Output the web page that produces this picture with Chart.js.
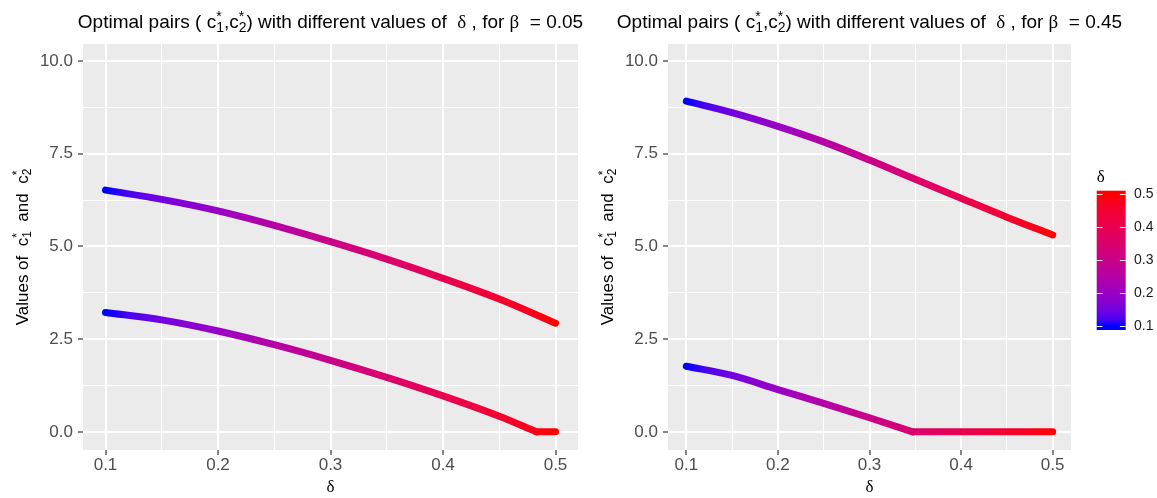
<!DOCTYPE html>
<html>
<head>
<meta charset="utf-8">
<script src="https://cdn.jsdelivr.net/npm/chart.js@4.4.1/dist/chart.umd.min.js"></script>
<style>
  body { margin: 0; background: #fff; }
  #wrap { position: relative; width: 1157px; height: 498px; background: #fff; }
  canvas { position: absolute; top: 0; }
</style>
</head>
<body>
<div id="wrap">
  <canvas id="left" width="620" height="498" style="left:0"></canvas>
  <canvas id="right" width="577" height="498" style="left:580px"></canvas>
</div>
<script>
// --- values ---
const deltaSteps = [0.1, 0.15, 0.2, 0.25, 0.3, 0.35, 0.4, 0.45, 0.5];

// beta = 0.05
const betaLeft = '0.05';
const c1Left = [6.52, 6.27, 5.96, 5.57, 5.13, 4.66, 4.14, 3.58, 2.93];
const c2LeftDelta = [0.1, 0.15, 0.2, 0.25, 0.3, 0.35, 0.4, 0.45, 0.483, 0.5];
const c2Left = [3.22, 3.02, 2.72, 2.35, 1.93, 1.47, 0.97, 0.42, 0, 0];

// beta = 0.45
const betaRight = '0.45';
const c1Right = [8.92, 8.61, 8.24, 7.82, 7.33, 6.81, 6.30, 5.79, 5.31];
const c2RightDelta = [0.1, 0.15, 0.2, 0.25, 0.3, 0.347, 0.4, 0.45, 0.5];
const c2Right = [1.77, 1.52, 1.14, 0.77, 0.38, 0, 0, 0, 0];

// axes and colour bar
const xMajor = [0.1, 0.2, 0.3, 0.4, 0.5];
const xMinor = [0.15, 0.25, 0.35, 0.45];
const yMajor = [0, 2.5, 5, 7.5, 10];
const yMinor = [1.25, 3.75, 6.25, 8.75];
const legendTicks = [0.1, 0.2, 0.3, 0.4, 0.5];
const deltaLow = 0.1, deltaHigh = 0.5;

const SANS = "'Liberation Sans', Arial, sans-serif";
const SERIF = "'Liberation Serif', serif";
Chart.defaults.font.family = SANS;

// --- colour scale blue -> red, interpolated in Lab like ggplot ---
function toLab(hex) {
  const lin = c => { c /= 255; return c <= 0.04045 ? c / 12.92 : Math.pow((c + 0.055) / 1.055, 2.4); };
  const r = lin(parseInt(hex.slice(1, 3), 16)), g = lin(parseInt(hex.slice(3, 5), 16)), b = lin(parseInt(hex.slice(5, 7), 16));
  const X = (0.4124564 * r + 0.3575761 * g + 0.1804375 * b) / 0.95047;
  const Y = 0.2126729 * r + 0.7151522 * g + 0.0721750 * b;
  const Z = (0.0193339 * r + 0.1191920 * g + 0.9503041 * b) / 1.08883;
  const f = t => t > 0.008856 ? Math.cbrt(t) : t / 0.128418 + 4 / 29;
  return [116 * f(Y) - 16, 500 * (f(X) - f(Y)), 200 * (f(Y) - f(Z))];
}
function fromLab([L, a, bb]) {
  const fy = (L + 16) / 116, fx = fy + a / 500, fz = fy - bb / 200;
  const fi = t => t > 6 / 29 ? t * t * t : 0.128418 * (t - 4 / 29);
  const X = fi(fx) * 0.95047, Y = fi(fy), Z = fi(fz) * 1.08883;
  const r = 3.2404542 * X - 1.5371385 * Y - 0.4985314 * Z;
  const g = -0.9692660 * X + 1.8760108 * Y + 0.0415560 * Z;
  const b = 0.0556434 * X - 0.2040259 * Y + 1.0572252 * Z;
  const gam = c => {
    c = Math.min(1, Math.max(0, c));
    c = c <= 0.0031308 ? 12.92 * c : 1.055 * Math.pow(c, 1 / 2.4) - 0.055;
    return Math.round(c * 255);
  };
  return `rgb(${gam(r)},${gam(g)},${gam(b)})`;
}
const labLow = toLab('#0000FF'), labHigh = toLab('#FF0000');
function deltaColour(d) {
  const t = Math.min(1, Math.max(0, (d - deltaLow) / (deltaHigh - deltaLow)));
  return fromLab(labLow.map((v, i) => v + (labHigh[i] - v) * t));
}
function addStops(grad) {
  for (let i = 0; i <= 20; i++) grad.addColorStop(i / 20, deltaColour(deltaLow + (deltaHigh - deltaLow) * i / 20));
  return grad;
}

function deltaGradient(chart) {
  const { ctx, chartArea, scales } = chart;
  if (!chartArea) return '#8000c0';
  const x0 = scales.x.getPixelForValue(deltaLow);
  const x1 = scales.x.getPixelForValue(deltaHigh);
  return addStops(ctx.createLinearGradient(x0, 0, x1, 0));
}

const has = (list, v) => list.some(m => Math.abs(m - v) < 1e-9);

function lineSet(points) {
  return {
    data: points,
    borderColor: c => deltaGradient(c.chart),
    borderWidth: 7,
    borderCapStyle: 'round',
    borderJoinStyle: 'round',
    pointRadius: 0,
    cubicInterpolationMode: 'monotone',
    fill: false
  };
}

// a curve that hits zero: the sloped part and the flat part are drawn separately
// so the corner stays sharp
function curveSets(deltas, values) {
  const pts = deltas.map((d, i) => ({ x: d, y: values[i] }));
  const k = values.indexOf(0);
  if (k < 0) return [lineSet(pts)];
  return [lineSet(pts.slice(0, k + 1)), lineSet(pts.slice(k))];
}

// --- text with c_1^* style scripts ---
function drawMath(ctx, parts, x, y, size, align) {
  const small = Math.round(size * 0.72);
  const widths = parts.map(p => {
    if (p.sub !== undefined) {
      ctx.font = `${small}px ${SANS}`;
      return Math.max(ctx.measureText(p.sub).width, ctx.measureText(p.sup).width);
    }
    ctx.font = `${size}px ${p.greek ? SERIF : SANS}`;
    return ctx.measureText(p.t).width;
  });
  const total = widths.reduce((a, b) => a + b, 0);
  let cx = align === 'center' ? x - total / 2 : x;
  ctx.textAlign = 'left';
  ctx.textBaseline = 'alphabetic';
  parts.forEach((p, i) => {
    if (p.sub !== undefined) {
      ctx.font = `${small}px ${SANS}`;
      ctx.fillText(p.sub, cx, y + size * 0.2);
      ctx.fillText(p.sup, cx, y - size * 0.36);
    } else {
      ctx.font = `${size}px ${p.greek ? SERIF : SANS}`;
      ctx.fillText(p.t, cx, y);
    }
    cx += widths[i];
  });
}

const decor = {
  id: 'decor',
  beforeDraw(chart) {
    const { ctx, chartArea: a } = chart;
    ctx.save();
    ctx.fillStyle = '#EBEBEB';
    ctx.fillRect(a.left, a.top, a.right - a.left, a.bottom - a.top);
    ctx.restore();
  },
  afterDraw(chart, args, opts) {
    const { ctx, chartArea: a } = chart;
    const midX = (a.left + a.right) / 2, midY = (a.top + a.bottom) / 2;
    ctx.save();
    ctx.fillStyle = '#000000';
    drawMath(ctx, [
      { t: 'Optimal pairs ( c' }, { sub: '1', sup: '*' }, { t: ',c' }, { sub: '2', sup: '*' },
      { t: ') with different values of  ' }, { t: 'δ', greek: true }, { t: ' , for ' },
      { t: 'β', greek: true }, { t: '  = ' + opts.beta }
    ], midX, 28, 19, 'center');

    ctx.save();
    ctx.translate(opts.yTitleX, midY);
    ctx.rotate(-Math.PI / 2);
    drawMath(ctx, [
      { t: 'Values of  c' }, { sub: '1', sup: '*' }, { t: '  and  c' }, { sub: '2', sup: '*' }
    ], 0, 0, 17, 'center');
    ctx.restore();

    ctx.font = `17px ${SERIF}`;
    ctx.textAlign = 'center';
    ctx.textBaseline = 'alphabetic';
    ctx.fillText('δ', midX, 492);

    if (opts.legend) {
      const bx = 516.7, bw = 29, top = 190.7, bottom = 330;
      const yOf = v => 325.9 - (v - 0.1) / 0.1 * 32.9;
      ctx.fillStyle = addStops(ctx.createLinearGradient(0, yOf(deltaLow), 0, yOf(deltaHigh)));
      ctx.fillRect(bx, top, bw, bottom - top);
      ctx.strokeStyle = 'rgba(255,255,255,0.9)';
      ctx.lineWidth = 1;
      legendTicks.forEach(v => {
        const y = Math.round(yOf(v)) + 0.5;
        ctx.beginPath();
        ctx.moveTo(bx, y); ctx.lineTo(bx + 5.8, y);
        ctx.moveTo(bx + bw - 5.8, y); ctx.lineTo(bx + bw, y);
        ctx.stroke();
      });
      ctx.fillStyle = '#1A1A1A';
      ctx.font = `14px ${SANS}`;
      ctx.textAlign = 'left';
      ctx.textBaseline = 'middle';
      legendTicks.forEach(v => ctx.fillText(v.toFixed(1), 554, yOf(v)));
      ctx.fillStyle = '#000000';
      ctx.font = `17px ${SERIF}`;
      ctx.textBaseline = 'alphabetic';
      ctx.fillText('δ', bx, 182);
    }
    ctx.restore();
  }
};

function axisGrid(major) {
  return {
    color: '#FFFFFF',
    lineWidth: c => (c.tick && has(major, c.tick.value)) ? 2 : 1,
    tickColor: c => (c.tick && has(major, c.tick.value)) ? '#333333' : 'rgba(0,0,0,0)',
    tickWidth: 1.2,
    tickLength: 5,
    drawTicks: true
  };
}

function makeChart(id, beta, c2Delta, c1, c2, yWidth, padRight, yTitleX, legend) {
  return new Chart(document.getElementById(id), {
    type: 'line',
    data: { datasets: curveSets(deltaSteps, c1).concat(curveSets(c2Delta, c2)) },
    options: {
      responsive: false,
      animation: false,
      events: [],
      layout: { padding: { top: 44, right: padRight, left: 0, bottom: 0 } },
      plugins: {
        legend: { display: false },
        tooltip: { enabled: false },
        decor: { beta: beta, yTitleX: yTitleX, legend: legend }
      },
      scales: {
        x: {
          type: 'linear', min: 0.08, max: 0.52,
          grid: axisGrid(xMajor),
          border: { display: false },
          afterBuildTicks: s => { s.ticks = xMajor.concat(xMinor).sort((a, b) => a - b).map(v => ({ value: v })); },
          afterFit: s => { s.height = 48; },
          ticks: {
            autoSkip: false, maxRotation: 0, padding: 0,
            color: '#4D4D4D', font: { size: 17 },
            callback: v => has(xMajor, v) ? v.toFixed(1) : ''
          }
        },
        y: {
          type: 'linear', min: -0.49, max: 10.46,
          grid: axisGrid(yMajor),
          border: { display: false },
          afterBuildTicks: s => { s.ticks = yMajor.concat(yMinor).sort((a, b) => a - b).map(v => ({ value: v })); },
          afterFit: s => { s.width = yWidth; },
          ticks: {
            autoSkip: false, padding: 5,
            color: '#4D4D4D', font: { size: 17 },
            callback: v => has(yMajor, v) ? v.toFixed(1) : ''
          }
        }
      }
    },
    plugins: [decor]
  });
}

makeChart('left', betaLeft, c2LeftDelta, c1Left, c2Left, 83, 42, 27.5, false);
makeChart('right', betaRight, c2RightDelta, c1Right, c2Right, 88, 86, 33, true);
</script>
</body>
</html>
